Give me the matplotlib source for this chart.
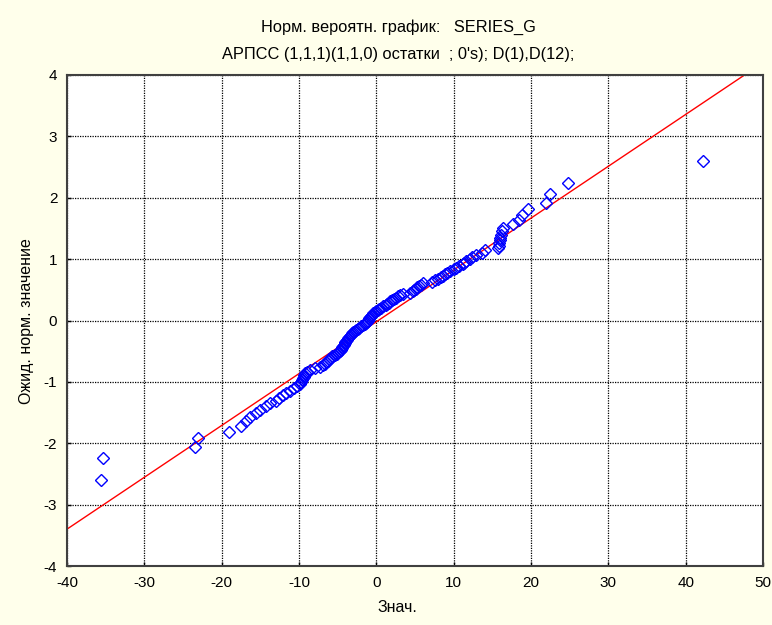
import matplotlib
matplotlib.use("Agg")
import matplotlib.pyplot as plt
import numpy as np
from statistics import NormalDist

# Sorted ARIMA residuals
residuals = [
    -35.6, -35.4, -23.4, -23.0, -19.0, -17.5, -16.9, -16.3, -15.6, -15.0,
    -14.3, -13.8, -13.0, -12.6, -12.1, -11.7, -11.2, -10.7, -10.3, -9.9,
    -9.8, -9.6, -9.5, -9.4, -9.3, -9.2, -9.0, -8.6, -7.9, -7.3,
    -6.9, -6.7, -6.5, -6.3, -6.1, -5.9, -5.7, -5.4, -5.1, -4.9,
    -4.7, -4.6, -4.5, -4.4, -4.3, -4.2, -4.1, -4.0, -3.9, -3.8,
    -3.6, -3.5, -3.4, -3.3, -3.1, -3.0, -2.8, -2.6, -2.4, -2.2,
    -2.0, -1.7, -1.5, -1.4, -1.2,
    -1.1,
    -1.0, -0.9, -0.8, -0.7, -0.5, -0.4, -0.2, 0.0, 0.2, 0.4,
    0.6, 0.8, 1.2, 1.4, 1.6, 1.8, 2.0, 2.3, 2.6, 2.8,
    3.1, 3.4, 4.4, 4.7, 4.9, 5.1, 5.2, 5.5, 5.8, 6.0,
    7.2, 7.6, 8.0, 8.3, 8.6, 8.9, 9.2, 9.5, 10.0, 10.3,
    10.7, 11.2, 11.4, 11.6, 12.1, 12.4, 12.9, 13.6, 14.0, 15.7,
    15.8, 15.9, 16.0, 16.0, 16.1, 16.2, 16.4, 17.7, 18.5, 18.8,
    19.6, 22.0, 22.4, 24.8, 42.3,
]

# Reference normal line parameters
fit_mean = 0.25
fit_sd = 11.84

x_ticks = [-40, -30, -20, -10, 0, 10, 20, 30, 40, 50]
y_ticks = [-4, -3, -2, -1, 0, 1, 2, 3, 4]

title1 = "Норм. вероятн. график:   SERIES_G"
title2 = "АРПСС (1,1,1)(1,1,0) остатки  ; 0's); D(1),D(12);"
xlabel = "Знач."
ylabel = "Ожид. норм. значение"

# Expected normal values (Blom plotting positions)
n = len(residuals)
nd = NormalDist()
expected = [nd.inv_cdf((i - 0.375) / (n + 0.25)) for i in range(1, n + 1)]

plt.rcParams['font.family'] = ['Liberation Sans', 'DejaVu Sans']
plt.rcParams['axes.unicode_minus'] = False

bg = '#FFFFEB'
fig = plt.figure(figsize=(7.72, 6.25), dpi=100, facecolor=bg)
ax = fig.add_axes([67/772, 1 - 566/625, (763 - 67)/772, (566 - 75)/625])
ax.set_facecolor('white')

ax.set_xlim(x_ticks[0], x_ticks[-1])
ax.set_ylim(y_ticks[0], y_ticks[-1])
ax.set_xticks(x_ticks)
ax.set_yticks(y_ticks)
ax.grid(True, color='black', linestyle=(0, (1, 1)), linewidth=0.9)
ax.set_axisbelow(True)

lx = np.array([x_ticks[0], x_ticks[-1]], dtype=float)
ax.plot(lx, (lx - fit_mean) / fit_sd, color='red', linewidth=1.0, zorder=2)

ax.plot(residuals, expected, linestyle='none', marker='D', markersize=5.8,
        markerfacecolor='none', markeredgecolor='#0000FF', markeredgewidth=1.0, zorder=3)

for s in ax.spines.values():
    s.set_color('#404040')
    s.set_linewidth(1.5)
ax.tick_params(direction='in', length=3, width=1, colors='black', labelsize=11, pad=7)

fig.text(398/772, 1 - 27/625, title1, ha='center', va='center', fontsize=11.8)
fig.text(398/772, 1 - 55/625, title2, ha='center', va='center', fontsize=11.8)
fig.text(397/772, 1 - 607/625, xlabel, ha='center', va='center', fontsize=11.5)
fig.text(27/772, 1 - 321/625, ylabel, ha='center', va='center', rotation=90, fontsize=11.5)

fig.savefig('out.png', dpi=100, facecolor=bg)
